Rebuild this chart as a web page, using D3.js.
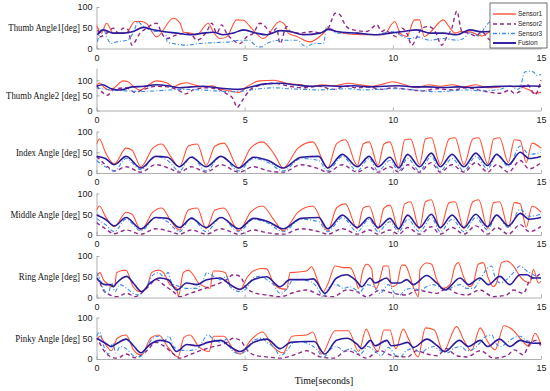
<!DOCTYPE html>
<html><head><meta charset="utf-8">
<script src="https://cdn.jsdelivr.net/npm/d3@7"></script>
<style>body{margin:0;background:#fff}</style>
</head><body><svg id="c" width="550" height="391"></svg>
<script>
const timeTicks = [0,5,10,15];
const yTicks = [0,50,100];
const seriesNames = ["Sensor1","Sensor2","Sensor3","Fusion"];
const panelLabels = ["Thumb Angle1[deg]","Thumb Angle2 [deg]","Index Angle [deg]","Middle Angle [deg]","Ring Angle [deg]","Pinky Angle [deg]"];
const panelYMax = [100,140,100,100,100,100];

// Thumb Angle1
const thumb1_s1 = [[0,57],[0.17,37],[0.34,61],[0.57,37],[1.0,38],[1.3,65],[1.52,65],[1.69,60],[2.03,28],[2.59,73],[2.82,61],[2.93,40],[3.16,37],[3.38,33],[3.77,61],[3.94,40],[4.17,24],[4.39,28],[4.73,69],[4.96,68],[5.18,53],[5.63,24],[6.19,65],[6.36,57],[6.47,37],[6.76,29],[7.2,16],[7.66,37],[7.82,49],[8.1,41],[8.5,35],[9.0,33],[9.68,33],[10.07,65],[10.24,37],[10.47,29],[10.73,69],[10.9,69],[11.06,29],[11.29,41],[11.7,69],[11.93,49],[12.1,37],[12.3,41],[12.6,40],[13.0,30],[13.4,45],[13.8,30],[14.2,35],[14.6,45],[15,38]];
const thumb1_s2 = [[0.05,45],[0.11,28],[0.4,40],[0.57,49],[0.74,37],[0.9,49],[1.07,45],[1.19,8],[1.47,37],[1.69,49],[2.03,61],[2.2,37],[2.37,24],[2.71,33],[3.04,37],[3.27,28],[3.38,20],[3.72,41],[3.89,61],[4.06,37],[4.22,57],[4.39,37],[4.61,20],[4.84,12],[5.07,28],[5.29,37],[5.52,61],[5.69,53],[5.91,37],[6.08,49],[6.19,12],[6.42,53],[6.53,41],[6.87,37],[7.32,41],[7.54,37],[7.82,49],[7.94,69],[8.05,85],[8.22,81],[8.33,65],[8.5,49],[8.67,45],[9.12,41],[9.46,57],[9.63,41],[9.74,45],[9.91,37],[10.13,28],[10.3,49],[10.47,37],[10.64,8],[10.81,28],[10.98,49],[11.2,53],[11.43,41],[11.65,8],[11.82,28],[11.99,49],[12.16,90],[12.33,41],[12.56,37],[12.8,30],[13.0,40],[13.3,20],[13.6,35],[14.0,30],[14.4,45],[14.8,30],[15,35]];
const thumb1_s3 = [[0.03,16],[0.12,40],[0.23,49],[0.34,28],[0.51,12],[0.68,16],[1.02,20],[1.24,37],[1.41,65],[1.52,57],[1.69,49],[1.92,41],[2.31,41],[2.39,16],[2.59,12],[3.04,8],[3.49,12],[3.94,14],[4.5,16],[4.84,20],[5.18,20],[5.29,12],[5.46,4],[5.57,4],[5.74,12],[6.19,20],[6.76,20],[6.98,8],[7.09,4],[7.32,12],[7.66,12],[7.77,53],[7.88,49],[8.0,41],[8.1,37],[8.79,37],[9.24,33],[9.68,37],[9.91,41],[10.13,37],[10.36,28],[10.58,24],[10.81,28],[11.26,20],[11.7,24],[12.16,20],[12.38,24],[12.6,38],[12.9,30],[13.1,50],[13.3,65],[13.6,55],[14.0,45],[14.4,40],[14.8,45],[15,40]];
const thumb1_s4 = [[0.03,33],[0.23,45],[0.57,37],[0.9,37],[1.24,41],[1.58,51],[1.92,45],[2.25,41],[2.71,37],[3.16,33],[3.6,37],[3.94,39],[4.28,33],[4.61,37],[4.96,45],[5.4,37],[5.74,33],[6.19,43],[6.53,41],[6.98,33],[7.54,37],[7.82,46],[8.1,41],[8.79,37],[9.46,33],[9.91,37],[10.36,41],[10.81,45],[11.26,37],[11.7,37],[12.16,33],[12.6,45],[13.0,40],[13.5,42],[14.0,38],[14.5,42],[15,40]];

// Thumb Angle2
const thumb2_s1 = [[0,84],[0.12,91],[0.25,77],[0.46,67],[0.63,78],[0.9,98],[1.05,96],[1.24,80],[1.47,67],[1.69,80],[2.03,98],[2.37,92],[2.59,78],[2.82,88],[3.04,92],[3.3,85],[3.6,78],[3.9,82],[4.2,70],[4.5,65],[4.8,60],[5.1,80],[5.5,98],[6.0,100],[6.4,90],[6.9,85],[7.3,80],[7.6,85],[8.0,82],[8.5,90],[8.9,85],[9.3,80],[9.7,88],[10.0,95],[10.4,85],[10.8,75],[11.2,85],[11.6,80],[12.0,85],[12.4,78],[12.8,85],[13.2,75],[13.62,78],[13.95,81],[14.1,78],[14.29,81],[14.5,72],[14.63,67],[14.75,57],[15,60]];
const thumb2_s2 = [[0,82],[0.2,60],[0.35,50],[0.6,70],[1.0,75],[1.3,60],[1.6,70],[2.0,80],[2.4,78],[2.8,65],[3.0,55],[3.3,70],[3.7,75],[4.1,70],[4.4,55],[4.6,40],[4.75,10],[4.9,30],[5.2,70],[5.6,85],[6.0,90],[6.5,80],[7.0,75],[7.5,80],[8.0,70],[8.4,80],[8.8,75],[9.2,78],[9.6,70],[10.0,75],[10.5,70],[11.0,65],[11.5,72],[12.0,68],[12.5,75],[13.0,65],[13.62,57],[13.95,67],[14.1,57],[14.29,63],[14.4,81],[14.55,85],[14.7,64],[14.8,52],[14.97,90],[15,100]];
const thumb2_s3 = [[0,75],[0.5,68],[1.0,65],[1.5,63],[2.0,65],[2.5,68],[3.0,70],[3.5,68],[4.0,65],[4.5,62],[5.0,65],[5.5,72],[6.0,75],[6.5,72],[7.0,70],[7.5,68],[8.0,70],[8.5,72],[9.0,68],[9.5,70],[10.0,72],[10.5,70],[11.0,65],[11.5,62],[12.0,65],[12.5,68],[13.0,65],[13.62,70],[13.95,81],[14.2,70],[14.29,75],[14.45,127],[14.63,130],[14.75,127],[14.85,116],[15,120]];
const thumb2_s4 = [[0,80],[0.2,85],[0.5,72],[0.8,68],[1.2,78],[1.6,80],[2.0,85],[2.4,82],[2.8,75],[3.2,78],[3.6,80],[4.0,76],[4.4,72],[4.8,70],[5.2,78],[5.7,88],[6.2,90],[6.7,85],[7.2,80],[7.7,82],[8.2,80],[8.7,82],[9.2,78],[9.7,80],[10.2,82],[10.7,78],[11.2,78],[11.7,76],[12.2,78],[12.7,76],[13.2,78],[13.7,80],[14.2,80],[14.7,81],[15,80]];

// Index Angle
const index_s1 = [[0,70],[0.1,82],[0.3,50],[0.6,22],[1.0,60],[1.2,55],[1.5,15],[1.9,60],[2.2,70],[2.5,40],[2.8,15],[3.1,65],[3.4,70],[3.7,18],[4.0,65],[4.3,72],[4.8,12],[5.2,60],[5.6,75],[6.0,45],[6.3,12],[6.8,60],[7.3,75],[7.8,12],[8.1,70],[8.4,80],[8.8,18],[9.0,70],[9.2,75],[9.5,18],[9.7,70],[9.9,75],[10.2,15],[10.4,80],[10.6,82],[10.9,20],[11.1,82],[11.3,85],[11.6,20],[11.9,82],[12.1,85],[12.4,20],[12.7,82],[12.9,85],[13.2,22],[13.4,82],[13.6,85],[13.9,25],[14.1,80],[14.3,78],[14.5,25],[14.7,72],[15,60]];
const index_s2 = [[0,40],[0.3,20],[0.6,5],[1.0,15],[1.5,2],[2.0,20],[2.5,10],[2.8,2],[3.2,15],[3.7,2],[4.2,20],[4.8,2],[5.3,15],[5.8,5],[6.3,2],[6.9,20],[7.5,10],[7.8,2],[8.3,20],[8.8,2],[9.2,15],[9.5,2],[9.9,15],[10.2,2],[10.5,20],[10.9,2],[11.3,25],[11.6,2],[12.0,20],[12.4,2],[12.8,25],[13.2,2],[13.5,20],[13.9,2],[14.3,30],[14.6,10],[15,25]];
const index_s3 = [[0,30],[0.3,15],[0.6,5],[1.0,35],[1.5,8],[2.0,40],[2.4,30],[2.8,5],[3.2,40],[3.7,5],[4.2,40],[4.8,5],[5.3,35],[5.8,25],[6.3,5],[6.9,35],[7.5,30],[7.8,5],[8.3,40],[8.8,5],[9.2,35],[9.5,5],[9.9,30],[10.2,5],[10.5,35],[10.9,5],[11.3,40],[11.6,5],[12.0,35],[12.4,5],[12.8,40],[13.2,10],[13.5,45],[13.9,15],[14.3,65],[14.6,45],[15,50]];
const index_s4 = [[0,40],[0.3,35],[0.6,20],[1.0,40],[1.5,12],[2.0,40],[2.4,38],[2.8,15],[3.2,38],[3.7,15],[4.2,40],[4.8,12],[5.3,38],[5.8,30],[6.3,12],[6.9,38],[7.5,40],[7.8,12],[8.3,45],[8.8,15],[9.2,40],[9.5,15],[9.9,38],[10.2,12],[10.5,45],[10.9,15],[11.3,48],[11.6,15],[12.0,45],[12.4,15],[12.8,48],[13.2,18],[13.5,45],[13.9,20],[14.3,50],[14.6,35],[15,40]];

// Middle Angle
const middle_s1 = [[0,60],[0.1,70],[0.3,45],[0.6,20],[1.0,55],[1.2,50],[1.5,12],[1.9,55],[2.2,65],[2.5,35],[2.8,12],[3.1,60],[3.4,65],[3.7,15],[4.0,60],[4.3,65],[4.8,10],[5.2,55],[5.6,70],[6.0,35],[6.3,10],[6.8,55],[7.3,70],[7.8,10],[8.1,65],[8.4,75],[8.8,15],[9.0,65],[9.2,70],[9.5,15],[9.7,65],[9.9,72],[10.2,12],[10.4,75],[10.6,80],[10.9,15],[11.1,80],[11.3,85],[11.6,15],[11.9,78],[12.1,80],[12.4,15],[12.7,80],[12.9,85],[13.2,15],[13.4,78],[13.6,80],[13.9,18],[14.1,78],[14.3,75],[14.5,18],[14.7,70],[15,55]];
const middle_s2 = [[0,30],[0.3,15],[0.6,3],[1.0,12],[1.5,2],[2.0,15],[2.5,8],[2.8,2],[3.2,12],[3.7,2],[4.2,15],[4.8,2],[5.3,12],[5.8,5],[6.3,2],[6.9,15],[7.5,8],[7.8,2],[8.3,15],[8.8,2],[9.2,12],[9.5,2],[9.9,12],[10.2,2],[10.5,18],[10.9,2],[11.3,20],[11.6,2],[12.0,18],[12.4,2],[12.8,22],[13.2,2],[13.5,18],[13.9,2],[14.3,25],[14.6,8],[15,20]];
const middle_s3 = [[0,40],[0.3,25],[0.6,8],[1.0,38],[1.5,10],[2.0,42],[2.4,32],[2.8,8],[3.2,42],[3.7,8],[4.2,42],[4.8,8],[5.3,38],[5.8,28],[6.3,8],[6.9,38],[7.5,32],[7.8,8],[8.3,42],[8.8,8],[9.2,38],[9.5,8],[9.9,32],[10.2,8],[10.5,38],[10.9,8],[11.3,42],[11.6,8],[12.0,38],[12.4,8],[12.8,42],[13.2,12],[13.5,48],[13.9,18],[14.3,62],[14.6,45],[15,50]];
const middle_s4 = [[0,48],[0.3,38],[0.6,22],[1.0,42],[1.5,15],[2.0,42],[2.4,40],[2.8,18],[3.2,40],[3.7,18],[4.2,42],[4.8,15],[5.3,40],[5.8,32],[6.3,15],[6.9,40],[7.5,42],[7.8,15],[8.3,48],[8.8,18],[9.2,42],[9.5,18],[9.9,40],[10.2,15],[10.5,48],[10.9,18],[11.3,50],[11.6,18],[12.0,48],[12.4,18],[12.8,50],[13.2,20],[13.5,48],[13.9,22],[14.3,52],[14.6,38],[15,42]];

// Ring Angle
const ring_s1 = [[0,51],[0.12,60],[0.23,43],[0.34,35],[0.51,26],[0.62,31],[0.68,60],[0.96,66],[1.02,64],[1.24,26],[1.47,14],[1.69,22],[1.86,60],[2.09,66],[2.26,60],[2.48,31],[2.71,22],[2.76,2],[2.93,60],[3.1,66],[3.21,60],[3.44,35],[3.66,26],[3.83,22],[3.94,64],[4.11,64],[4.34,60],[4.51,31],[4.73,22],[4.84,18],[5.07,47],[5.29,64],[5.57,70],[5.74,69],[5.97,35],[6.19,22],[6.42,20],[6.53,60],[6.75,61],[7.09,64],[7.26,74],[7.32,68],[7.49,35],[7.65,14],[7.82,35],[8.05,76],[8.33,72],[8.55,72],[8.72,51],[8.84,22],[9.0,68],[9.12,80],[9.29,68],[9.34,35],[9.45,22],[9.62,60],[9.68,76],[9.85,76],[9.96,26],[10.13,31],[10.3,78],[10.41,78],[10.58,51],[10.69,26],[10.86,2],[10.92,68],[11.14,83],[11.31,80],[11.48,43],[11.7,22],[11.93,31],[12.1,76],[12.21,84],[12.38,51],[12.6,26],[12.72,35],[12.88,80],[13.05,84],[13.22,47],[13.39,26],[13.5,35],[13.67,84],[13.84,88],[14.07,76],[14.29,51],[14.46,39],[14.63,35],[14.74,68],[14.91,35],[15,39]];
const ring_s2 = [[0.12,35],[0.23,18],[0.46,6],[0.68,2],[1.02,10],[1.3,2],[1.69,22],[2.03,43],[2.26,31],[2.59,14],[2.82,2],[3.16,10],[3.49,18],[3.83,26],[4.39,43],[4.61,55],[4.84,51],[5.07,22],[5.4,10],[5.74,6],[6.19,2],[6.75,14],[7.09,18],[7.54,6],[7.99,2],[8.44,18],[8.78,14],[9.12,2],[9.57,18],[10.02,10],[10.47,6],[10.8,18],[11.14,14],[11.48,10],[11.82,22],[12.16,10],[12.49,6],[12.94,18],[13.39,2],[13.84,6],[14.07,18],[14.41,10],[14.63,43],[14.86,51],[15,59]];
const ring_s3 = [[0,60],[0.12,43],[0.23,22],[0.4,10],[0.51,35],[0.62,14],[0.79,31],[1.02,22],[1.24,10],[1.41,6],[1.69,26],[1.86,51],[2.09,60],[2.26,51],[2.42,60],[2.54,35],[2.82,26],[3.04,22],[3.38,22],[3.6,43],[3.72,60],[3.94,51],[4.17,43],[4.39,51],[4.51,26],[4.84,14],[5.07,22],[5.29,47],[5.57,51],[5.74,43],[5.97,31],[6.19,10],[6.42,20],[6.64,43],[6.87,43],[7.2,39],[7.43,26],[7.65,2],[7.82,22],[8.1,31],[8.33,22],[8.55,26],[8.89,14],[9.12,31],[9.34,26],[9.57,10],[9.85,31],[10.07,10],[10.24,6],[10.41,18],[10.69,22],[10.92,18],[11.14,26],[11.37,31],[11.54,26],[11.82,18],[12.04,26],[12.27,31],[12.49,22],[12.72,22],[12.94,43],[13.16,68],[13.33,76],[13.44,51],[13.61,35],[13.84,43],[14.07,60],[14.29,76],[14.52,64],[14.74,55],[15,47]];
const ring_s4 = [[0,47],[0.29,31],[0.46,31],[0.57,26],[0.68,35],[1.02,51],[1.24,35],[1.52,14],[1.81,35],[2.14,47],[2.42,43],[2.71,18],[3.04,35],[3.38,31],[3.72,43],[4.17,47],[4.51,31],[4.84,20],[5.29,43],[5.74,50],[6.19,26],[6.53,43],[7.09,43],[7.32,45],[7.71,10],[8.1,47],[8.44,55],[8.78,39],[8.95,26],[9.23,47],[9.4,35],[9.79,47],[9.96,35],[10.24,35],[10.47,43],[10.69,31],[11.14,53],[11.48,35],[11.76,18],[12.27,47],[12.55,31],[12.94,47],[13.22,31],[13.61,51],[13.95,31],[14.29,55],[14.52,55],[14.74,47],[15,47]];

// Pinky Angle
const pinky_s1 = [[0,45],[0.12,55],[0.3,35],[0.5,20],[0.7,50],[1.0,58],[1.25,22],[1.5,10],[1.85,52],[2.1,58],[2.4,30],[2.75,5],[2.95,52],[3.15,58],[3.45,30],[3.8,18],[3.95,55],[4.3,55],[4.6,25],[4.85,12],[5.2,45],[5.6,65],[5.95,30],[6.3,15],[6.6,55],[7.1,58],[7.3,65],[7.6,12],[8.05,68],[8.5,68],[8.85,18],[9.1,72],[9.35,30],[9.5,18],[9.7,70],[9.9,70],[10.1,25],[10.35,72],[10.55,45],[10.85,5],[11.1,75],[11.4,70],[11.7,18],[12.15,78],[12.4,45],[12.65,20],[12.95,75],[13.2,42],[13.45,22],[13.75,80],[14.05,70],[14.35,45],[14.6,30],[14.8,62],[15,35]];
const pinky_s2 = [[0.1,40],[0.25,20],[0.5,5],[0.7,2],[1.0,12],[1.3,3],[1.7,20],[2.0,40],[2.3,30],[2.6,12],[2.8,2],[3.2,12],[3.5,20],[3.85,28],[4.4,40],[4.6,50],[4.85,45],[5.1,20],[5.4,8],[5.75,5],[6.2,2],[6.75,12],[7.1,20],[7.55,5],[8.0,2],[8.45,20],[8.8,12],[9.1,2],[9.55,20],[10.0,8],[10.5,5],[10.8,20],[11.15,12],[11.5,8],[11.8,25],[12.15,8],[12.5,5],[12.95,20],[13.4,2],[13.85,8],[14.1,22],[14.4,10],[14.6,35],[14.85,45],[15,30]];
const pinky_s3 = [[0,55],[0.1,65],[0.25,30],[0.4,12],[0.55,38],[0.65,15],[0.8,30],[1.0,25],[1.25,8],[1.45,5],[1.7,28],[1.9,50],[2.1,55],[2.3,45],[2.45,55],[2.6,30],[2.85,22],[3.05,20],[3.4,25],[3.6,45],[3.75,58],[3.95,48],[4.2,40],[4.4,48],[4.55,22],[4.85,12],[5.1,25],[5.3,45],[5.6,50],[5.75,40],[6.0,28],[6.2,8],[6.45,22],[6.65,40],[6.9,42],[7.2,35],[7.45,22],[7.65,3],[7.85,20],[8.1,30],[8.35,20],[8.6,25],[8.9,12],[9.15,30],[9.35,22],[9.6,8],[9.85,28],[10.1,8],[10.25,5],[10.45,20],[10.7,25],[10.95,15],[11.15,25],[11.4,30],[11.55,22],[11.85,15],[12.05,25],[12.3,30],[12.5,20],[12.75,25],[12.95,40],[13.15,55],[13.35,58],[13.45,40],[13.65,30],[13.85,40],[14.05,50],[14.3,55],[14.5,45],[14.75,40],[15,35]];
const pinky_s4 = [[0,50],[0.3,38],[0.5,30],[0.7,38],[1.0,48],[1.25,32],[1.5,15],[1.8,35],[2.15,45],[2.45,40],[2.7,18],[3.05,35],[3.4,32],[3.75,40],[4.2,45],[4.5,30],[4.85,18],[5.3,40],[5.75,48],[6.2,25],[6.55,40],[7.1,42],[7.35,42],[7.7,12],[8.1,45],[8.45,50],[8.8,35],[8.95,25],[9.25,45],[9.4,32],[9.8,45],[9.95,32],[10.25,35],[10.5,40],[10.7,28],[11.15,48],[11.5,32],[11.75,18],[12.25,45],[12.55,30],[12.95,45],[13.2,30],[13.6,48],[13.95,30],[14.3,45],[14.55,40],[14.75,38],[15,38]];

const panelData = [
  [thumb1_s1,thumb1_s2,thumb1_s3,thumb1_s4],
  [thumb2_s1,thumb2_s2,thumb2_s3,thumb2_s4],
  [index_s1,index_s2,index_s3,index_s4],
  [middle_s1,middle_s2,middle_s3,middle_s4],
  [ring_s1,ring_s2,ring_s3,ring_s4],
  [pinky_s1,pinky_s2,pinky_s3,pinky_s4]
];

// ---- layout & style ----
const panelBottoms = [48.5,110.5,173,235,297.5,359];
const panelH = 41.5;
const X0 = 96.5, X1 = 541;
const styles = [
  {color:"#ff5236", width:1.1, dash:null},
  {color:"#93288c", width:1.4, dash:"4,3"},
  {color:"#3d8ce6", width:1.1, dash:"4,2,1,2"},
  {color:"#2c1c9c", width:1.6, dash:null}
];
const numFont = "'Liberation Sans Narrow','Arial Narrow','Liberation Sans',Arial,sans-serif";
const serif = "'Liberation Serif','Times New Roman',serif";

const svg = d3.select("#c");
const x = d3.scaleLinear().domain([0,15]).range([X0,X1]);

panelData.forEach((series,i)=>{
  const yb = panelBottoms[i];
  const ymax = panelYMax[i];
  const h = ymax===100 ? panelH : panelH*1.02;
  const y = d3.scaleLinear().domain([0,ymax]).range([yb, yb-h]);
  const g = svg.append("g");

  const xa = d3.axisBottom(x).tickValues(timeTicks).tickSizeInner(-3).tickSizeOuter(0).tickPadding(6);
  const ya = d3.axisLeft(y).tickValues(yTicks).tickSizeInner(-3).tickSizeOuter(0).tickPadding(4);
  const gx = g.append("g").attr("transform",`translate(0,${yb})`).call(xa);
  const gy = g.append("g").attr("transform",`translate(${X0},0)`).call(ya);
  [gx,gy].forEach(a=>{
    a.select(".domain").attr("stroke","#9a9a9a").attr("stroke-width",0.8);
    a.selectAll(".tick line").attr("stroke","#9a9a9a").attr("stroke-width",0.8);
    a.selectAll("text").attr("fill","#222").style("font-family",numFont).style("font-size","9px");
  });

  const clipId = "clip"+i;
  svg.append("clipPath").attr("id",clipId).append("rect")
    .attr("x",X0).attr("y",yb-h-6).attr("width",X1-X0+2).attr("height",h+8);

  const line = d3.line().x(d=>x(d[0])).y(d=>y(d[1])).curve(d3.curveMonotoneX);
  const lg = g.append("g").attr("clip-path",`url(#${clipId})`);
  series.forEach((s,k)=>{
    lg.append("path").datum(s).attr("d",line)
      .attr("fill","none").attr("stroke",styles[k].color)
      .attr("stroke-width",styles[k].width)
      .attr("stroke-dasharray",styles[k].dash)
      .attr("stroke-linejoin","round");
  });

  g.append("text")
    .attr("transform",`translate(80,${y(50)}) scale(0.84,1)`)
    .attr("dy","0.35em")
    .attr("text-anchor","end").style("font-family",serif).style("font-size","10.5px")
    .attr("fill","#111").text(panelLabels[i]);
});

// x axis title
svg.append("text").attr("transform","translate(324,380) scale(0.9,1)").attr("dy","0.35em").attr("text-anchor","middle")
  .style("font-family",serif).style("font-size","11px").attr("fill","#111").text("Time[seconds]");

// legend
const lgd = svg.append("g");
lgd.append("rect").attr("x",490).attr("y",3).attr("width",57).attr("height",45)
  .attr("fill","#fff").attr("stroke","#333").attr("stroke-width",0.7);
const legendY = [14,24,33.5,43];
seriesNames.forEach((n,k)=>{
  lgd.append("line").attr("x1",493).attr("x2",516).attr("y1",legendY[k]).attr("y2",legendY[k])
    .attr("stroke",styles[k].color).attr("stroke-width",styles[k].width+0.3)
    .attr("stroke-dasharray",styles[k].dash);
  lgd.append("text").attr("x",518).attr("y",legendY[k]).attr("dy","0.35em")
    .style("font-family",numFont).style("font-size","6.5px").attr("fill","#222").text(n);
});
</script></body></html>
